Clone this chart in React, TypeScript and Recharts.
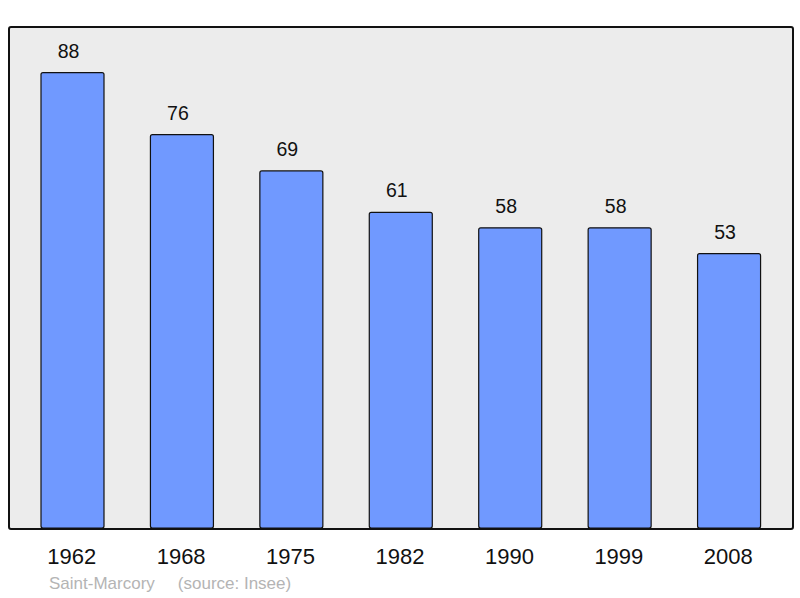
import { BarChart, Bar, XAxis, YAxis, LabelList } from "recharts";

const years = ["1962", "1968", "1975", "1982", "1990", "1999", "2008"];
const population = [88, 76, 69, 61, 58, 58, 53];

const data = years.map((year, i) => ({ year, value: population[i] }));

const font = "'Liberation Sans', Arial, sans-serif";

export default function App() {
  return (
    <div style={{ position: "fixed", left: 0, top: 0, width: 800, height: 598, background: "#fff", fontFamily: font }}>
      {/* plot frame */}
      <div
        style={{
          position: "absolute",
          left: 8,
          top: 26,
          width: 782,
          height: 500,
          background: "#ececec",
          border: "2px solid #111",
          borderRadius: 3,
        }}
      />
      <div style={{ position: "absolute", left: 0, top: 0 }}>
        <BarChart
          width={800}
          height={598}
          data={data}
          margin={{ top: 27, right: 8, left: 9, bottom: 40 }}
          barCategoryGap={0}
        >
          <XAxis
            dataKey="year"
            axisLine={false}
            tickLine={false}
            padding={{ left: 9, right: 8 }}
            height={30}
            tickMargin={14}
            tick={{ fill: "#111", fontSize: 22, fontFamily: font, dx: -1 }}
          />
          <YAxis hide domain={[0, 96.8]} />
          <Bar
            dataKey="value"
            fill="#7099ff"
            stroke="#111"
            strokeWidth={1.2}
            barSize={63}
            radius={2}
            isAnimationActive={false}
          >
            <LabelList
              dataKey="value"
              position="top"
              offset={15}
              dx={-4}
              fill="#111"
              fontSize={19.5}
              fontFamily={font}
            />
          </Bar>
        </BarChart>
      </div>
      <div
        style={{
          position: "absolute",
          left: 49,
          top: 574,
          fontSize: 17,
          color: "#b4b4b4",
          whiteSpace: "pre",
        }}
      >
        <span>Saint-Marcory</span>
        <span style={{ marginLeft: 23 }}>(source: Insee)</span>
      </div>
    </div>
  );
}
